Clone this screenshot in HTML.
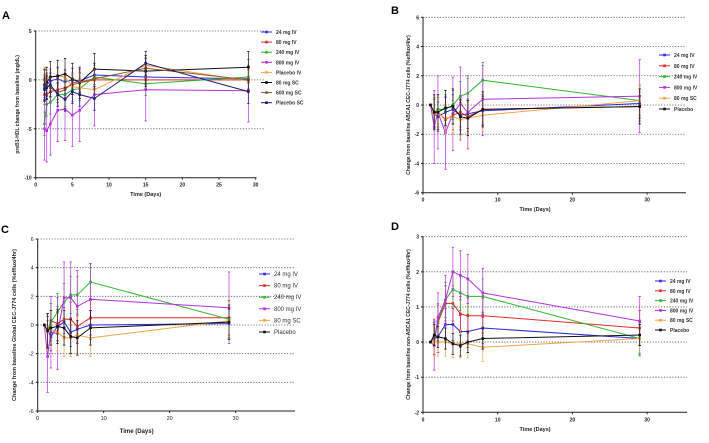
<!DOCTYPE html>
<html><head><meta charset="utf-8"><style>
html,body{margin:0;padding:0;background:#fff;}
svg{display:block;font-family:"Liberation Sans",sans-serif;}
</style></head><body>
<svg id="fig" width="709" height="443" viewBox="0 0 709 443" xmlns="http://www.w3.org/2000/svg"></svg>
<script>
// ---------- Panel A data ----------
const aNames = ["24 mg IV","80 mg IV","240 mg IV","800 mg IV","Placebo IV","80 mg SC","600 mg SC","Placebo SC"];
const aTimes = [1.2,1.5,2,3,4,5,6,8,15,29];
const aVals = [
 [-0.8,-0.5,-0.1,0.1,-0.2,0,-0.1,0.5,0.3,0.1],
 [-1.5,-1.5,-1.2,-1.0,-0.8,-0.5,-0.3,0,0,0],
 [-4.5,-2.5,-2.3,-1.5,-1.5,-1,-0.9,0.3,-0.4,0.3],
 [-5,-5.2,-4.5,-3.1,-3,-3.6,-3.1,-1.5,-1.0,-1.1],
 [0.5,0.2,0.3,0.4,0.3,-0.7,-0.8,-1,1.5,-0.1],
 [-0.5,-0.3,0.3,0.4,0.6,0.1,-0.3,1.1,0.9,1.3],
 [0,-0.5,-0.8,-1.3,-1,-0.3,-0.2,0.1,1.2,0],
 [-1,-0.8,-0.5,-1.5,-2,-1.2,-1.5,-1.9,1.7,-1.2]
];
const aErr = [1.2,1.0,1.2,3.2,0.8,1.6,1.0,1.2];
const aTicksY = [5,0,-5,-10];
const aTicksX = [0,5,10,15,20,25,30];
// ---------- Panel B data ----------
const bNames = ["24 mg IV","80 mg IV","240 mg IV","800 mg IV","80 mg SC","Placebo"];
const bTimes = [1,1.5,2,3,4,5,6,8,29];
const bVals = [
 [0,-0.6,-0.8,-0.5,-0.3,-0.7,-0.6,-0.4,0.1],
 [0,-0.5,-0.5,-1.0,-0.7,-0.5,-0.8,-0.3,-0.1],
 [0,-0.5,-0.3,-0.3,0,0.6,0.8,1.7,0.3],
 [0,-1.5,-0.5,-1.9,-0.6,0.1,-0.5,0.4,0.6],
 [0,-0.6,-0.6,-0.9,-0.8,-1.0,-0.9,-0.7,0.3],
 [0,-0.5,-0.5,-0.2,-0.1,-0.8,-0.9,-0.3,-0.1]
];
const bErr = [1.0,1.0,1.0,2.5,1.1,1.2];
const bTicksY = [6,4,2,0,-2,-4,-6];
const bTicksX = [0,10,20,30];
// ---------- Panel C data ----------
const cNames = ["24 mg IV","80 mg IV","240 mg IV","800 mg IV","80 mg SC","Placebo"];
const cTimes = [1,1.5,2,3,4,5,6,8,29];
const cVals = [
 [0,-0.4,-0.8,-0.1,0.2,-0.5,-0.3,0,0.1],
 [0,-0.4,0.3,0.1,0.4,0.4,-0.1,0.5,0.5],
 [0,-0.5,0.2,0.9,1.6,2.1,2.1,3.0,0.4],
 [0,-2.2,-0.5,-0.6,1.9,1.9,1.3,1.8,1.2],
 [0,-0.5,-0.3,-0.5,-0.9,-0.9,-0.7,-0.9,0.3],
 [0,-0.4,-0.2,-0.1,-0.2,-0.8,-0.9,-0.2,0.2]
];
const cErr = [1.0,1.2,1.3,2.5,1.3,1.2];
const cTicksY = [6,4,2,0,-2,-4,-6];
const cTicksX = [0,10,20,30];
// ---------- Panel D data ----------
const dNames = ["24 mg IV","80 mg IV","240 mg IV","800 mg IV","80 mg SC","Placebo"];
const dTimes = [1,1.5,2,3,4,5,6,8,29];
const dVals = [
 [0,0.1,0.15,0.5,0.5,0.3,0.3,0.4,0.1],
 [0,0.15,0.55,1.1,1.1,0.8,0.75,0.75,0.4],
 [0,0.1,0.6,1.2,1.5,1.4,1.3,1.3,0.1],
 [0,-0.1,0.7,1.2,2.0,1.9,1.8,1.4,0.6],
 [0,0,0,0,-0.05,-0.05,-0.05,-0.15,0.1],
 [0,0.2,0.15,0.1,-0.05,-0.1,0,0.1,0.2]
];
const dErr = [0.45,0.5,0.5,0.7,0.4,0.3];
const dTicksY = [3,2,1,0,-1,-2];
const dTicksX = [0,10,20,30];

const NS="http://www.w3.org/2000/svg";
const fig=document.getElementById('fig');
function mk(tag,attrs,parent){const e=document.createElementNS(NS,tag);for(const k in attrs)e.setAttribute(k,attrs[k]);(parent||fig).appendChild(e);return e;}
const colA=["#2a2ae0","#e02a2a","#2fb52f","#b52fe0","#f2a54a","#111","#8a5a2a","#1c1c70"];
const colB=["#2a2ae0","#e02a2a","#2fb52f","#b52fe0","#f2a54a","#111"];

function panel(o){
  const g=mk('g',{});
  
  
  const sx=v=>o.x0+(v-o.xmin)*(o.x1-o.x0)/(o.xmax-o.xmin);
  const sy=v=>o.y0+(o.ymax-v)*(o.y1-o.y0)/(o.ymax-o.ymin);
  // gridlines
  o.ticksY.forEach(t=>{ if(t===o.ymin) return;
    const l=mk('line',{x1:o.x0,x2:o.gridEnd,y1:sy(t),y2:sy(t),stroke:'#555','stroke-width':0.8,'stroke-dasharray':'1.2,1.6'},g);
    
    
  });
  // axes
  const ya=mk('line',{x1:o.x0,x2:o.x0,y1:o.y0,y2:o.y1,stroke:'#222','stroke-width':1},g);
  
  
  const xa=mk('line',{x1:o.x0,x2:o.axisEnd,y1:o.y1,y2:o.y1,stroke:'#222','stroke-width':1},g);
  
  
  const fw=o.bold?'bold':'normal';
  o.ticksY.forEach(t=>{
    mk('line',{x1:o.x0-2,x2:o.x0,y1:sy(t),y2:sy(t),stroke:'#222'},g);
    const tx=mk('text',{x:o.x0-4,y:sy(t)+2,'font-size':o.fs,'text-anchor':'end','font-weight':fw,fill:'#222'},g);
    tx.textContent=t;
    
    
  });
  o.ticksX.forEach(t=>{
    mk('line',{x1:sx(t),x2:sx(t),y1:o.y1,y2:o.y1+2,stroke:'#222'},g);
    const tx=mk('text',{x:sx(t),y:o.y1+9,'font-size':o.fs,'text-anchor':'middle','font-weight':fw,fill:'#222'},g);
    tx.textContent=t;
    
    
  });
  const xt=mk('text',{x:(o.x0+sx(30))/2,y:o.xtY,'font-size':o.fs+0.5,'text-anchor':'middle','font-weight':'bold',fill:'#222'},g);
  xt.textContent='Time (Days)';
  
  
  const yt=mk('text',{x:0,y:0,'font-size':o.fs,'text-anchor':'middle','font-weight':'bold',fill:'#222',transform:`translate(${o.ytX},${(o.y0+o.y1)/2}) rotate(-90)`},g);
  yt.textContent=o.ytitle;
  
  
  const lt=mk('text',{x:o.letter[0],y:o.letter[1],'font-size':11,'font-weight':'bold',fill:'#000'},g);
  lt.textContent=o.id.slice(-1).toUpperCase();
  
  
  // series
  o.vals.forEach((vals,si)=>{
    const c=o.colors[si];
    const sg=mk('g',{},g);
    
    
    vals.forEach((v,i)=>{
      const x=sx(o.times[i]);const e=o.err[si]*(i===0&&o.times[0]===1?0:1);
      mk('line',{x1:x,x2:x,y1:sy(v+e),y2:sy(v-e),stroke:c,'stroke-width':0.8,opacity:0.85},sg);
      mk('line',{x1:x-1.2,x2:x+1.2,y1:sy(v+e),y2:sy(v+e),stroke:c,'stroke-width':0.8},sg);
      mk('line',{x1:x-1.2,x2:x+1.2,y1:sy(v-e),y2:sy(v-e),stroke:c,'stroke-width':0.8},sg);
    });
    const pts=vals.map((v,i)=>sx(o.times[i]).toFixed(1)+','+sy(v).toFixed(1)).join(' ');
    const pl=mk('polyline',{points:pts,fill:'none',stroke:c,'stroke-width':1},sg);
    
    
    vals.forEach((v,i)=>{
      const m=mk('rect',{x:sx(o.times[i])-1.3,y:sy(v)-1.3,width:2.6,height:2.6,fill:c},sg);
      
      
    });
  });
  // legend
  o.names.forEach((n,si)=>{
    const y=o.leg[1]+si*o.leg[2];const x=o.leg[0];
    const lg=mk('g',{},g);
    
    
    mk('line',{x1:x,x2:x+11,y1:y,y2:y,stroke:o.colors[si],'stroke-width':1},lg);
    mk('rect',{x:x+4.2,y:y-1.3,width:2.6,height:2.6,fill:o.colors[si]},lg);
    const t=mk('text',{x:x+15,y:y+2,'font-size':o.lfs,'font-weight':fw,fill:'#333'},lg);
    t.textContent=n;
  });
}

panel({id:'panel-a',names:aNames,times:aTimes,vals:aVals,err:aErr,colors:colA,ticksY:aTicksY,ticksX:aTicksX,
  x0:35.7,x1:255.7,xmin:0,xmax:30,y0:31,y1:177.7,ymin:-10,ymax:5,gridEnd:265,axisEnd:256.5,fs:5,lfs:5,bold:true,
  xtY:196,ytX:19,ytitle:'preB1-HDL change from baseline (mg/dL)',letter:[2,19],leg:[261,32,10.1]});
panel({id:'panel-b',names:bNames,times:bTimes,vals:bVals,err:bErr,colors:colB,ticksY:bTicksY,ticksX:bTicksX,
  x0:423,x1:684.5,xmin:0,xmax:35,y0:17.3,y1:192.7,ymin:-6,ymax:6,gridEnd:686,axisEnd:686,fs:5,lfs:5,bold:true,
  xtY:211,ytX:410,ytitle:'Change from baseline ABCA1 CEC-J774 cells (%efflux/4hr)',letter:[391,14],leg:[659,55,10.8]});
panel({id:'panel-c',names:cNames,times:cTimes,vals:cVals,err:cErr,colors:colB,ticksY:cTicksY,ticksX:cTicksX,
  x0:37.7,x1:295,xmin:0,xmax:39,y0:239,y1:411,ymin:-6,ymax:6,gridEnd:295,axisEnd:295,fs:5.5,lfs:6,bold:false,
  xtY:433,ytX:16,ytitle:'Change from baseline Global CEC-J774 cells (%efflux/4hr)',letter:[1,233],leg:[259,274,11.6]});
panel({id:'panel-d',names:dNames,times:dTimes,vals:dVals,err:dErr,colors:colB,ticksY:dTicksY,ticksX:dTicksX,
  x0:423,x1:684.5,xmin:0,xmax:35,y0:236.7,y1:412.3,ymin:-2,ymax:3,gridEnd:687,axisEnd:687,fs:5,lfs:5,bold:true,
  xtY:431,ytX:410,ytitle:'Change from baseline non-ABCA1 CEC-J774 cells (%efflux/4hr)',letter:[391,230],leg:[655,281,9.8]});
</script>
</body></html>
